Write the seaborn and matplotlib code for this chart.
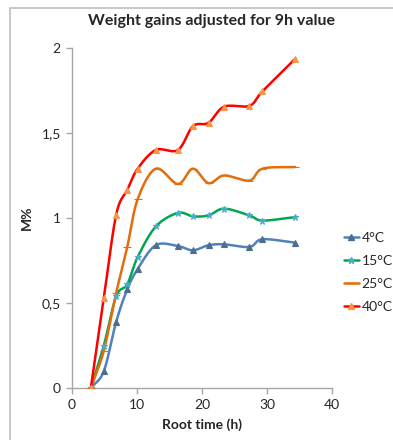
import numpy as np
import pandas as pd
import matplotlib
matplotlib.use("Agg")
import matplotlib.pyplot as plt
import seaborn as sns

# root time (h) -- same sampling for all temperatures
tiempos = [2.9, 4.9, 6.8, 8.5, 10.1, 12.9, 16.3, 18.6, 21.0, 23.4, 27.3, 29.3, 34.3]

m_4 = [0, 0.10, 0.39, 0.58, 0.70, 0.84, 0.835, 0.81, 0.84, 0.845, 0.83, 0.875, 0.855]
m_15 = [0, 0.25, 0.54, 0.61, 0.77, 0.95, 1.03, 1.01, 1.015, 1.055, 1.015, 0.985, 1.005]
m_25 = [0, 0.22, 0.56, 0.83, 1.11, 1.29, 1.20, 1.29, 1.205, 1.25, 1.22, 1.29, 1.30]
m_40 = [0, 0.53, 1.02, 1.165, 1.29, 1.40, 1.40, 1.54, 1.56, 1.655, 1.66, 1.745, 1.935]

etiquetas = ["4°C", "15°C", "25°C", "40°C"]
series = [m_4, m_15, m_25, m_40]

# line colour, marker colour, marker, marker size
estilos = [
    ("#4F81BD", "#4A6F8F", "^", 5),
    ("#00A650", "#4BACC6", "*", 5),
    ("#E46C0A", "#E46C0A", "_", 6),
    ("#FF0000", "#F79646", "^", 5),
]


def suavizar(x, y, n=24):
    # catmull-rom, parecido al "smoothed line" de excel
    x = np.asarray(x, float); y = np.asarray(y, float)
    px = np.concatenate([[2 * x[0] - x[1]], x, [2 * x[-1] - x[-2]]])
    py = np.concatenate([[2 * y[0] - y[1]], y, [2 * y[-1] - y[-2]]])
    xs, ys = [], []
    t = np.linspace(0, 1, n, endpoint=False)
    for i in range(1, len(px) - 2):
        for p, out in ((px, xs), (py, ys)):
            p0, p1, p2, p3 = p[i - 1], p[i], p[i + 1], p[i + 2]
            out.extend(0.5 * ((2 * p1) + (-p0 + p2) * t +
                              (2 * p0 - 5 * p1 + 4 * p2 - p3) * t ** 2 +
                              (-p0 + 3 * p1 - 3 * p2 + p3) * t ** 3))
    xs.append(x[-1]); ys.append(y[-1])
    return np.array(xs), np.array(ys)


sns.set_style("white")
plt.rcParams['font.family'] = ['Lato', 'DejaVu Sans']

fig = plt.figure(figsize=(3.93, 4.4), dpi=100)
ax = fig.add_axes([72 / 393, 52 / 440, 260 / 393, 340 / 440])

# borde del area del grafico (recortado a la derecha y abajo)
fig.add_artist(plt.Rectangle((10 / 393, -0.1), 1.2, 1 - 8 / 440 + 0.1,
                             transform=fig.transFigure, fill=False,
                             edgecolor="#BFBFBF", linewidth=1.2))

handles = []
for nombre, valores, (col, mcol, mk, ms) in zip(etiquetas, series, estilos):
    sx, sy = suavizar(tiempos, valores)
    sns.lineplot(x=sx, y=sy, sort=False, color=col, linewidth=1.8, ax=ax,
                 estimator=None)
    df = pd.DataFrame({"t": tiempos, "m": valores})
    ax.plot(df["t"], df["m"], linestyle="none", marker=mk, markersize=ms,
            color=mcol, markeredgewidth=0.8, zorder=3)
    h, = ax.plot([], [], color=col, linewidth=1.8, marker=mk, markersize=ms,
                 markerfacecolor=mcol, markeredgecolor=mcol)
    handles.append(h)

ax.set_xlim(0, 40)
ax.set_ylim(0, 2)
ax.set_xticks([0, 10, 20, 30, 40])
ax.set_yticks([0, 0.5, 1, 1.5, 2])
ax.set_yticklabels(["0", "0,5", "1", "1,5", "2"])
for s in ["top", "right"]:
    ax.spines[s].set_visible(False)
for s in ["left", "bottom"]:
    ax.spines[s].set_color("#A6A6A6")
    ax.spines[s].set_linewidth(1.0)
ax.tick_params(axis="both", direction="out", length=4, width=1.0,
               color="#A6A6A6", labelsize=10, labelcolor="#262626", pad=4)
ax.tick_params(left=True, bottom=True)

ax.set_xlabel("Root time (h)", fontsize=10, fontweight="bold", labelpad=5)
ax.set_ylabel("M%", fontsize=10, fontweight="bold", labelpad=6)
fig.text(211 / 393, 1 - 21 / 440, "Weight gains adjusted for 9h value",
         ha="center", va="center", fontsize=11.5, fontweight="bold")

fig.legend(handles, etiquetas, loc="upper left",
           bbox_to_anchor=(338 / 393, 1 - 226 / 440), frameon=False,
           fontsize=10, handlelength=1.1, handletextpad=0.2,
           labelspacing=0.8, borderaxespad=0)

fig.savefig("out.png", dpi=100)
